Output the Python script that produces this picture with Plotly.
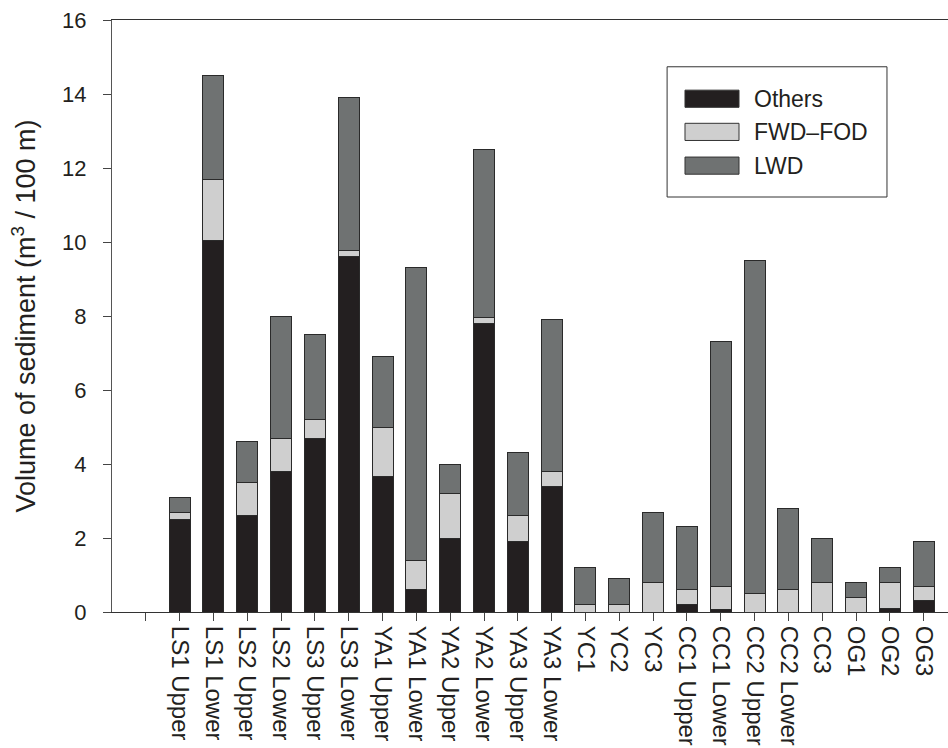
import plotly.graph_objects as go

categories = ["LS1 Upper", "LS1 Lower", "LS2 Upper", "LS2 Lower", "LS3 Upper", "LS3 Lower",
              "YA1 Upper", "YA1 Lower", "YA2 Upper", "YA2 Lower", "YA3 Upper", "YA3 Lower",
              "YC1", "YC2", "YC3", "CC1 Upper", "CC1 Lower", "CC2 Upper", "CC2 Lower",
              "CC3", "OG1", "OG2", "OG3"]

others = [2.5, 10.05, 2.6, 3.8, 4.7, 9.6, 3.67, 0.6, 2.0, 7.8, 1.9, 3.4,
          0, 0, 0, 0.2, 0.08, 0, 0, 0, 0, 0.1, 0.3]
fwd_fod = [0.18, 1.65, 0.9, 0.88, 0.5, 0.18, 1.33, 0.8, 1.2, 0.17, 0.7, 0.4,
           0.2, 0.2, 0.8, 0.4, 0.62, 0.5, 0.6, 0.8, 0.4, 0.7, 0.4]
lwd = [0.42, 2.8, 1.1, 3.32, 2.3, 4.12, 1.9, 7.9, 0.8, 4.53, 1.7, 4.1,
       1.0, 0.7, 1.9, 1.7, 6.6, 9.0, 2.2, 1.2, 0.4, 0.4, 1.2]

series_names = ["Others", "FWD\u2013FOD", "LWD"]
series_values = [others, fwd_fod, lwd]
series_colors = ["#231f20", "#cfcfcf", "#6f7272"]

y_ticks = [0, 2, 4, 6, 8, 10, 12, 14, 16]

FONT = "Liberation Sans, Arial, sans-serif"
xpos = list(range(len(categories)))

fig = go.Figure()
for name, vals, col in zip(series_names, series_values, series_colors):
    fig.add_trace(go.Bar(
        x=xpos, y=vals, name=name, width=0.62,
        marker=dict(color=col, line=dict(color="#2a2a2a", width=1)),
        showlegend=False,
    ))

# custom legend (wide swatches like the original)
shapes = [dict(type="rect", xref="paper", yref="paper", x0=0.664, x1=0.927, y0=0.701, y1=0.921,
               line=dict(color="#333", width=1), fillcolor="white", layer="above")]
annotations = []
row_y = [0.867, 0.811, 0.754]
for name, col, yc in zip(series_names, series_colors, row_y):
    shapes.append(dict(type="rect", xref="paper", yref="paper", x0=0.6854, x1=0.75,
                       y0=yc - 0.0145, y1=yc + 0.0145, fillcolor=col,
                       line=dict(color="#333", width=1), layer="above"))
    annotations.append(dict(xref="paper", yref="paper", x=0.7656, y=yc, text=name,
                            showarrow=False, xanchor="left", yanchor="middle",
                            font=dict(family=FONT, size=23, color="#231f20")))

fig.update_layout(
    width=948, height=748,
    margin=dict(l=112, r=0, t=20, b=136),
    paper_bgcolor="white", plot_bgcolor="white",
    barmode="stack",
    font=dict(family=FONT, size=22, color="#231f20"),
    shapes=shapes, annotations=annotations,
    xaxis=dict(
        range=[-2, 22.72],
        tickmode="array",
        tickvals=xpos,
        ticktext=categories,
        tickangle=90,
        ticks="outside", ticklen=8, tickcolor="#444", tickwidth=1,
        minor=dict(tickmode="array", tickvals=[-1], ticks="outside", ticklen=8,
                   tickcolor="#444", tickwidth=1, showgrid=False),
        showline=True, linecolor="#333", linewidth=1, mirror=True,
        showgrid=False, zeroline=False, automargin=False,
        tickfont=dict(family=FONT, size=24, color="#231f20"),
    ),
    yaxis=dict(
        range=[0, 16],
        tickmode="array", tickvals=y_ticks,
        ticks="outside", ticklen=8, tickcolor="#444", tickwidth=1,
        showline=True, linecolor="#555", linewidth=1,
        showgrid=False, zeroline=False, automargin=False,
        ticklabelstandoff=12,
        tickfont=dict(family=FONT, size=22, color="#231f20"),
        title=dict(text="Volume of sediment (m<sup>3</sup> / 100 m)",
                   font=dict(family=FONT, size=27, color="#231f20"), standoff=18),
    ),
)

fig.write_html("out.html", config={"displayModeBar": False},
               post_script="document.body.style.margin='0';document.body.style.overflow='hidden';")
